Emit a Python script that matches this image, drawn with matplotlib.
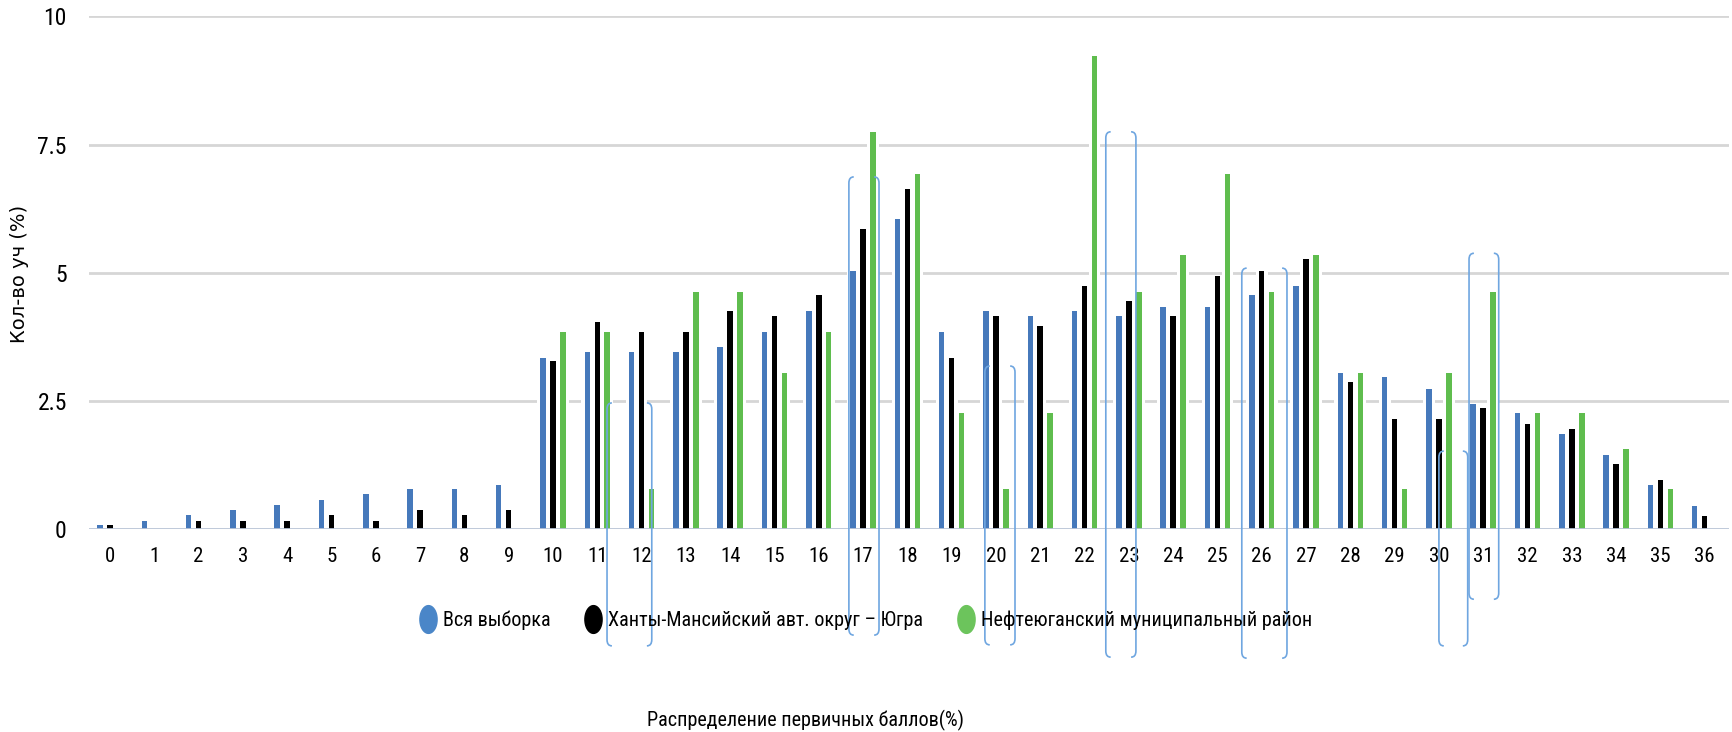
import numpy as np
import matplotlib
matplotlib.use('Agg')
import matplotlib.pyplot as plt
from matplotlib import font_manager
from matplotlib.font_manager import FontProperties
from matplotlib.path import Path
from matplotlib.patches import PathPatch
from matplotlib.lines import Line2D

# data (% of students per primary score)
scores = list(range(37))
all_sample = [0.08, 0.15, 0.27, 0.38, 0.46, 0.56, 0.68, 0.79, 0.79, 0.86,
              3.34, 3.45, 3.45, 3.45, 3.56, 3.85, 4.26, 5.04, 6.05, 3.85,
              4.26, 4.15, 4.26, 4.15, 4.34, 4.34, 4.56, 4.75, 3.04, 2.96,
              2.74, 2.44, 2.27, 1.85, 1.45, 0.86, 0.44]
hmao = [0.08, 0.0, 0.15, 0.15, 0.15, 0.27, 0.15, 0.38, 0.27, 0.38,
        3.27, 4.04, 3.85, 3.85, 4.26, 4.15, 4.56, 5.86, 6.64, 3.33,
        4.15, 3.97, 4.75, 4.45, 4.15, 4.94, 5.04, 5.27, 2.86, 2.15,
        2.15, 2.37, 2.04, 1.96, 1.26, 0.96, 0.26]
nefteyugansk = [0, 0, 0, 0, 0, 0, 0, 0, 0, 0,
                3.85, 3.85, 0.79, 4.63, 4.63, 3.04, 3.85, 7.75, 6.93, 2.27,
                0.79, 2.27, 9.23, 4.63, 5.34, 6.93, 4.63, 5.34, 3.04, 0.79,
                3.04, 4.63, 2.27, 2.27, 1.56, 0.79, 0]
series_names = ['Вся выборка', 'Ханты-Мансийский авт. округ – Югра',
                'Нефтеюганский муниципальный район']
y_ticks = [0, 2.5, 5, 7.5, 10]
y_tick_labels = ['0', '2.5', '5', '7.5', '10']

# stray highlight brackets on the screenshot (category units / value units)
br_left = [11.22, 16.68, 19.75, 22.48, 25.55, 30.0, 30.68]
br_right = [12.23, 17.36, 20.43, 23.16, 26.57, 30.65, 31.35]
br_top = [2.46, 6.87, 3.18, 7.75, 5.09, 1.52, 5.38]
br_bottom = [-2.28, -2.07, -2.26, -2.50, -2.52, -2.28, -1.37]


# the screenshot text is horizontally squeezed -> look for a narrow face
def find_narrow():
    found = []
    for f in font_manager.fontManager.ttflist:
        fn = f.fname.lower()
        nm = f.name.lower()
        if any(k in fn for k in ('bold', 'italic', 'oblique', 'light', 'thin', 'medium', 'black')):
            continue
        if 'narrow' in nm or 'condensed' in nm or 'narrow' in fn or 'condensed' in fn \
                or str(f.stretch) in ('condensed', 'semi-condensed', 'extra-condensed'):
            found.append(f)
    order = ['liberation', 'roboto', 'noto', 'open', 'dejavu']
    found.sort(key=lambda f: next((i for i, k in enumerate(order) if k in f.name.lower()), 9))
    return found[0].fname if found else None


narrow_file = find_narrow()
if narrow_file:
    def fp(size):
        return FontProperties(fname=narrow_file, size=size)
    k = 1.0
else:
    def fp(size):
        return FontProperties(family='Liberation Sans', size=size)
    k = 0.85

colors = ['#4679bb', '#000000', '#5fbd4e']

fig = plt.figure(figsize=(17.32, 7.32), dpi=100)
ax = fig.add_axes([0.0514, 0.2773, 0.9469, 0.7002])

x = np.arange(len(scores))
w = 0.125
off = 0.225
for i, vals in enumerate([all_sample, hmao, nefteyugansk]):
    pos = x + (i - 1) * off
    ax.bar(pos, vals, width=w + 0.14, color='white', zorder=1)
    ax.bar(pos, vals, width=w, color=colors[i], zorder=2, linewidth=0)

ax.set_xlim(-0.474, 36.55)
ax.set_ylim(0, 10)
ax.set_yticks(y_ticks)
ax.set_yticklabels(y_tick_labels, fontproperties=fp(17 * k))
ax.set_xticks(x)
ax.set_xticklabels([str(s) for s in scores], fontproperties=fp(15 * k))
for v in y_ticks[1:]:
    ax.axhline(v, color='#d6d6d6', lw=2, zorder=0)
ax.axhline(0, color='#b9c4d6', lw=2, zorder=3)
for s in ax.spines.values():
    s.set_visible(False)
ax.tick_params(axis='x', length=0, pad=13)
ax.tick_params(axis='y', length=0, pad=16)

# brackets
rx, ry = 0.11, 0.12
for l, r, t, b in zip(br_left, br_right, br_top, br_bottom):
    for xe, d in [(l, 1), (r, -1)]:
        verts = [(xe + d * rx, t), (xe, t), (xe, t - ry), (xe, b + ry),
                 (xe, b), (xe + d * rx, b)]
        codes = [Path.MOVETO, Path.CURVE3, Path.CURVE3, Path.LINETO,
                 Path.CURVE3, Path.CURVE3]
        ax.add_patch(PathPatch(Path(verts, codes), fill=False, edgecolor='#6fa6e0',
                               lw=1.2, zorder=5, clip_on=False))

# legend with oval markers
t = np.linspace(0, 2 * np.pi, 40)
oval = np.column_stack([0.62 * np.cos(t), np.sin(t)])
handles = [Line2D([], [], linestyle='none', marker=oval, markersize=20,
                  markerfacecolor=c, markeredgecolor=c) for c in ['#4a86c8', '#000000', '#6cc45c']]
fig.legend(handles, series_names, loc='center', bbox_to_anchor=(0.5, 0.153), ncol=3,
           frameon=False, prop=fp(14.5 * k), handlelength=0.8, handletextpad=0.35,
           columnspacing=1.7)

fig.text(0.0115, 0.626, 'Кол-во уч (%)', rotation=90, ha='center', va='center',
         fontsize=14, family='DejaVu Sans')
fig.text(0.465, 0.0164, 'Распределение первичных баллов(%)', ha='center', va='center',
         fontproperties=fp(14.5 * k))

fig.savefig('out.png', dpi=100)
